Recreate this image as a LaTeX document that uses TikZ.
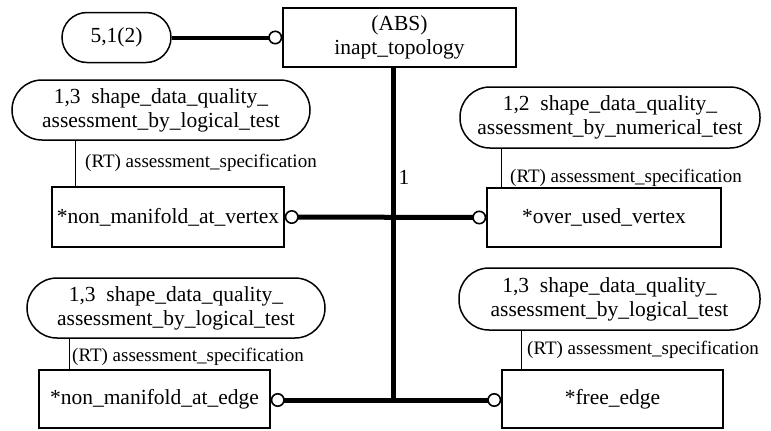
\documentclass[tikz,border=0pt]{standalone}
\usepackage{fontspec}
\setmainfont{Liberation Serif}
\usetikzlibrary{arrows.meta}
\tikzset{
  entity/.style={draw, line width=1.5pt, inner sep=0pt, align=center,
    font=\fontsize{21.5}{24}\selectfont},
  pill/.style={draw, line width=1.5pt, rounded corners=30pt, inner sep=0pt,
    align=center, font=\fontsize{21.5}{24}\selectfont},
  rtlabel/.style={inner sep=0pt, anchor=west, font=\fontsize{19}{20}\selectfont},
  rel/.style={line width=1.5pt},
  supline/.style={line width=5pt},
  ring/.tip={Circle[open, length=14pt, width=14pt, line width=1.6pt]}
}
\begin{document}
\begin{tikzpicture}[x=1pt, y=-1pt]
  \useasboundingbox (0,0) rectangle (771,431);
  % entities and references
  \node[entity, minimum width=233pt, minimum height=59pt] (abs) at (399.5,37.5) {(ABS)\\inapt\_topology};
  \node[pill, minimum width=109pt, minimum height=50pt, rounded corners=25pt] (ref) at (116.5,37.5) {5,1(2)};
  \node[pill, minimum width=298pt, minimum height=60pt] (logA) at (161,110) {1,3~~shape\_data\_quality\_\\assessment\_by\_logical\_test};
  \node[entity, minimum width=232pt, minimum height=60pt] (mvtx) at (168,217) {*non\_manifold\_at\_vertex};
  \node[pill, minimum width=300pt, minimum height=61pt] (numA) at (610,117.5) {1,2~~shape\_data\_quality\_\\assessment\_by\_numerical\_test};
  \node[entity, minimum width=234pt, minimum height=59pt] (ovtx) at (604,217.5) {*over\_used\_vertex};
  \node[pill, minimum width=298pt, minimum height=60pt] (logB) at (176,308) {1,3~~shape\_data\_quality\_\\assessment\_by\_logical\_test};
  \node[entity, minimum width=231pt, minimum height=58pt] (medge) at (154.5,399) {*non\_manifold\_at\_edge};
  \node[pill, minimum width=301pt, minimum height=62pt] (logC) at (609.5,299) {1,3~~shape\_data\_quality\_\\assessment\_by\_logical\_test};
  \node[entity, minimum width=221pt, minimum height=58pt] (fedge) at (612.5,399) {*free\_edge};
  % supertype tree
  \coordinate (t) at (393,400);
  \draw[line width=4pt, -ring] (ref.east) -- (abs.west);
  \draw[supline] (abs.south -| t) -- ([yshift=2.5pt]t);
  \draw[supline, ring-ring] (mvtx.east) -- (ovtx.west);
  \draw[supline, ring-ring] (medge.east |- t) -- (fedge.west |- t);
  \node[inner sep=0pt, font=\fontsize{21.5}{24}\selectfont] (one) at (404,177) {1};
  % attributes
  \draw[rel] ([xshift=24pt]mvtx.north west) -- ([xshift=24pt]mvtx.north west |- logA.south);
  \draw[rel] ([xshift=15pt]ovtx.north west) -- ([xshift=15pt]ovtx.north west |- numA.south);
  \draw[rel] ([xshift=31pt]medge.north west) -- ([xshift=31pt]medge.north west |- logB.south);
  \draw[rel] ([xshift=20pt]fedge.north west) -- ([xshift=20pt]fedge.north west |- logC.south);
  \node[rtlabel] (rtA) at (85,163) {(RT) assessment\_specification};
  \node[rtlabel] (rtB) at (510,178) {(RT) assessment\_specification};
  \node[rtlabel] (rtC) at (72,357) {(RT) assessment\_specification};
  \node[rtlabel] (rtD) at (527,350) {(RT) assessment\_specification};
\end{tikzpicture}
\end{document}
